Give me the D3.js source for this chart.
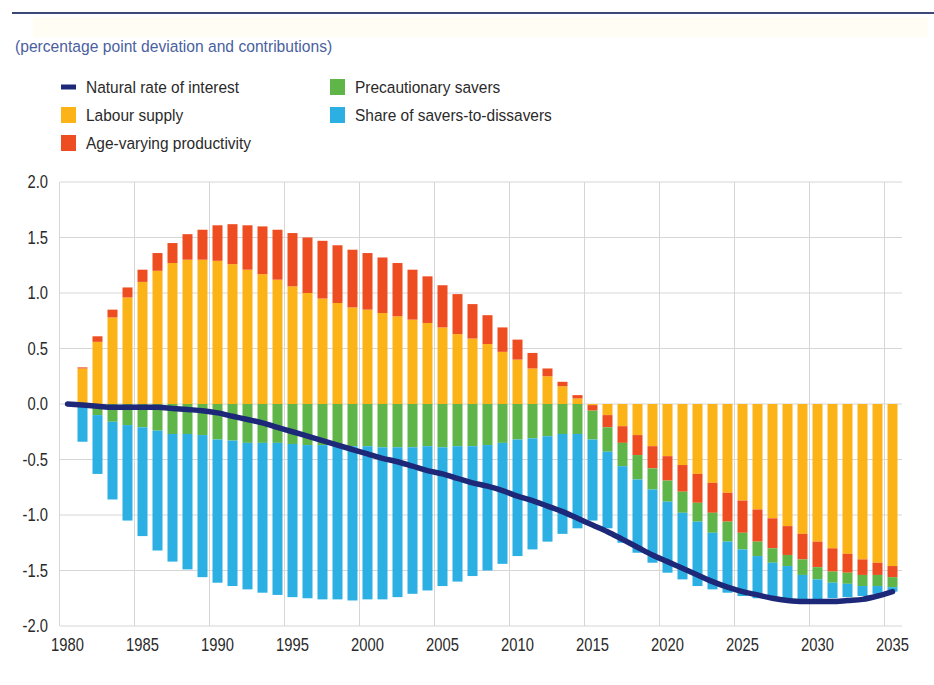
<!DOCTYPE html>
<html>
<head>
<meta charset="utf-8">
<script src="https://cdn.jsdelivr.net/npm/d3@7/dist/d3.min.js"></script>
<style>
  body { margin: 0; background: #fff; }
  svg { display: block; font-family: "Liberation Sans", Arial, sans-serif; }
</style>
</head>
<body>
<svg id="chart" width="934" height="685"></svg>
<script>
// years on the axis (line) and years with bars
const lineYears = d3.range(1980, 2036);
const barYears = d3.range(1981, 2036);
const tickYears = [1980, 1985, 1990, 1995, 2000, 2005, 2010, 2015, 2020, 2025, 2030, 2035];
const yTicks = [-2, -1.5, -1, -0.5, 0, 0.5, 1, 1.5, 2];

// contributions, 1981-2035
const labourSupply = [
  0.32, 0.56, 0.78, 0.96, 1.10, 1.20, 1.27, 1.30, 1.30, 1.29,
  1.26, 1.21, 1.17, 1.12, 1.06, 1.00, 0.95, 0.91, 0.87, 0.85,
  0.82, 0.79, 0.76, 0.73, 0.69, 0.63, 0.59, 0.54, 0.47, 0.40,
  0.32, 0.25, 0.16, 0.05, -0.01, -0.10, -0.20, -0.28, -0.38, -0.47,
  -0.55, -0.63, -0.71, -0.80, -0.87, -0.95, -1.03, -1.10, -1.17, -1.24,
  -1.30, -1.35, -1.40, -1.43, -1.46
];
const ageProductivity = [
  0.01, 0.05, 0.07, 0.09, 0.11, 0.16, 0.18, 0.23, 0.27, 0.32,
  0.36, 0.40, 0.43, 0.45, 0.48, 0.50, 0.52, 0.52, 0.52, 0.51,
  0.50, 0.48, 0.45, 0.42, 0.38, 0.36, 0.31, 0.26, 0.22, 0.18,
  0.14, 0.07, 0.04, 0.03, -0.05, -0.11, -0.15, -0.18, -0.20, -0.22,
  -0.24, -0.26, -0.27, -0.26, -0.29, -0.29, -0.27, -0.26, -0.23, -0.23,
  -0.21, -0.17, -0.14, -0.11, -0.10
];
const precautionarySavers = [
  -0.01, -0.10, -0.16, -0.19, -0.21, -0.24, -0.27, -0.27, -0.28, -0.32,
  -0.33, -0.35, -0.35, -0.35, -0.36, -0.37, -0.37, -0.38, -0.38, -0.38,
  -0.39, -0.39, -0.39, -0.38, -0.39, -0.38, -0.38, -0.37, -0.35, -0.32,
  -0.31, -0.29, -0.27, -0.27, -0.26, -0.22, -0.21, -0.22, -0.19, -0.19,
  -0.19, -0.17, -0.18, -0.18, -0.15, -0.13, -0.13, -0.10, -0.14, -0.11,
  -0.10, -0.10, -0.10, -0.10, -0.09
];
const saversShare = [
  -0.33, -0.53, -0.70, -0.86, -0.98, -1.08, -1.15, -1.22, -1.28, -1.29,
  -1.31, -1.32, -1.35, -1.37, -1.38, -1.38, -1.39, -1.38, -1.39, -1.38,
  -1.37, -1.35, -1.32, -1.30, -1.25, -1.22, -1.17, -1.13, -1.09, -1.05,
  -1.00, -0.95, -0.90, -0.85, -0.73, -0.69, -0.69, -0.66, -0.66, -0.64,
  -0.60, -0.58, -0.51, -0.46, -0.42, -0.38, -0.33, -0.31, -0.23, -0.18,
  -0.14, -0.12, -0.09, -0.07, -0.04
];
// natural rate of interest, 1980-2035
const naturalRate = [
  0.00, -0.01, -0.02, -0.03, -0.03, -0.03, -0.03, -0.04, -0.05, -0.06,
  -0.08, -0.11, -0.14, -0.17, -0.21, -0.25, -0.29, -0.33, -0.37, -0.41,
  -0.45, -0.49, -0.52, -0.56, -0.60, -0.63, -0.67, -0.71, -0.74, -0.78,
  -0.83, -0.87, -0.92, -0.97, -1.03, -1.09, -1.15, -1.22, -1.29, -1.36,
  -1.42, -1.48, -1.54, -1.60, -1.65, -1.69, -1.72, -1.75, -1.77, -1.78,
  -1.78, -1.78, -1.77, -1.76, -1.73, -1.69
];

const seriesKeys = ['labour', 'age', 'precaution', 'share'];
const seriesColors = { labour: '#fbb317', age: '#ee4d22', precaution: '#5fb548', share: '#2cb0e4' };
const lineColor = '#1d2878';

// tabella per d3.stack
const table = barYears.map((yr, i) => ({
  year: yr,
  labour: labourSupply[i],
  age: ageProductivity[i],
  precaution: precautionarySavers[i],
  share: saversShare[i]
}));

const svg = d3.select('#chart');

// comprimi il testo in orizzontale (font stretto come nell'originale)
function squeeze(sel, sx) {
  sel.each(function () {
    const t = d3.select(this);
    const x = +t.attr('x') || 0, y = +t.attr('y') || 0;
    t.attr('x', 0).attr('y', 0).attr('transform', `translate(${x},${y}) scale(${sx},1)`);
  });
}

// header
svg.append('rect').attr('x', 33).attr('y', 17).attr('width', 895).attr('height', 20).attr('fill', '#fffdf4');
svg.append('line').attr('x1', 12).attr('x2', 934).attr('y1', 13).attr('y2', 13)
  .attr('stroke', '#3c4878').attr('stroke-width', 2);

const subtitle = svg.append('text')
  .attr('x', 15).attr('y', 52)
  .attr('fill', '#4a5f9e')
  .style('font-size', '17px')
  .text('(percentage point deviation and contributions)');
squeeze(subtitle, 0.92);

// legend
const legendItems = [
  { name: 'Natural rate of interest', color: lineColor, type: 'line', col: 0, row: 0 },
  { name: 'Labour supply', color: seriesColors.labour, type: 'box', col: 0, row: 1 },
  { name: 'Age-varying productivity', color: seriesColors.age, type: 'box', col: 0, row: 2 },
  { name: 'Precautionary savers', color: seriesColors.precaution, type: 'box', col: 1, row: 0 },
  { name: 'Share of savers-to-dissavers', color: seriesColors.share, type: 'box', col: 1, row: 1 }
];
const legend = svg.append('g');
const li = legend.selectAll('g').data(legendItems).enter().append('g')
  .attr('transform', d => `translate(${d.col === 0 ? 61 : 330},${87 + d.row * 28})`);
li.append('rect')
  .attr('x', 0)
  .attr('y', d => d.type === 'line' ? -2.5 : -8)
  .attr('width', 15)
  .attr('height', d => d.type === 'line' ? 5 : 16)
  .attr('fill', d => d.color);
const lt = li.append('text')
  .attr('x', 25).attr('y', 6)
  .attr('fill', '#2a2a2a')
  .style('font-size', '17px')
  .text(d => d.name);
squeeze(lt, 0.91);

// scales
const x = d3.scaleBand().domain(lineYears).range([60, 900]).paddingInner(1 / 3).paddingOuter(1 / 6);
const y = d3.scaleLinear().domain([-2, 2]).range([626, 182]);

// gridlines
const grid = svg.append('g').attr('stroke', '#d6d6d6').attr('stroke-width', 1);
grid.selectAll('line.h').data(yTicks).enter().append('line')
  .attr('x1', 60).attr('x2', 902)
  .attr('y1', d => y(d)).attr('y2', d => y(d));
grid.selectAll('line.v').data(tickYears).enter().append('line')
  .attr('x1', d => x(d) - x.step() / 6 - 0.5).attr('x2', d => x(d) - x.step() / 6 - 0.5)
  .attr('y1', y(2)).attr('y2', y(-2));

// stacked bars
const stack = d3.stack().keys(seriesKeys).offset(d3.stackOffsetDiverging);
const layers = stack(table);

svg.append('g').selectAll('g').data(layers).enter().append('g')
  .attr('fill', d => seriesColors[d.key])
  .selectAll('rect').data(d => d).enter().append('rect')
  .attr('x', d => x(d.data.year))
  .attr('width', x.bandwidth())
  .attr('y', d => y(Math.max(d[0], d[1])))
  .attr('height', d => Math.abs(y(d[0]) - y(d[1])));

// natural rate line
const line = d3.line()
  .x((d, i) => x(lineYears[i]) + x.bandwidth() / 2)
  .y(d => y(d))
  .curve(d3.curveMonotoneX);
svg.append('path')
  .datum(naturalRate)
  .attr('d', line)
  .attr('fill', 'none')
  .attr('stroke', lineColor)
  .attr('stroke-width', 5.5)
  .attr('stroke-linecap', 'round');

// axes
const yAxis = svg.append('g')
  .attr('transform', 'translate(48,0)')
  .call(d3.axisLeft(y).tickValues(yTicks).tickSize(0).tickPadding(0).tickFormat(d => d.toFixed(1)));
yAxis.select('.domain').remove();
yAxis.selectAll('text').attr('fill', '#2a2a2a').style('font-size', '18px').style('font-family', '"Liberation Sans", Arial, sans-serif');
squeeze(yAxis.selectAll('text'), 0.82);

const xAxis = svg.append('g')
  .attr('transform', 'translate(0,638)')
  .call(d3.axisBottom(x).tickValues(tickYears).tickSize(0).tickPadding(0));
xAxis.select('.domain').remove();
xAxis.selectAll('text').attr('fill', '#2a2a2a').style('font-size', '18px').style('font-family', '"Liberation Sans", Arial, sans-serif');
squeeze(xAxis.selectAll('text'), 0.82);
</script>
</body>
</html>
